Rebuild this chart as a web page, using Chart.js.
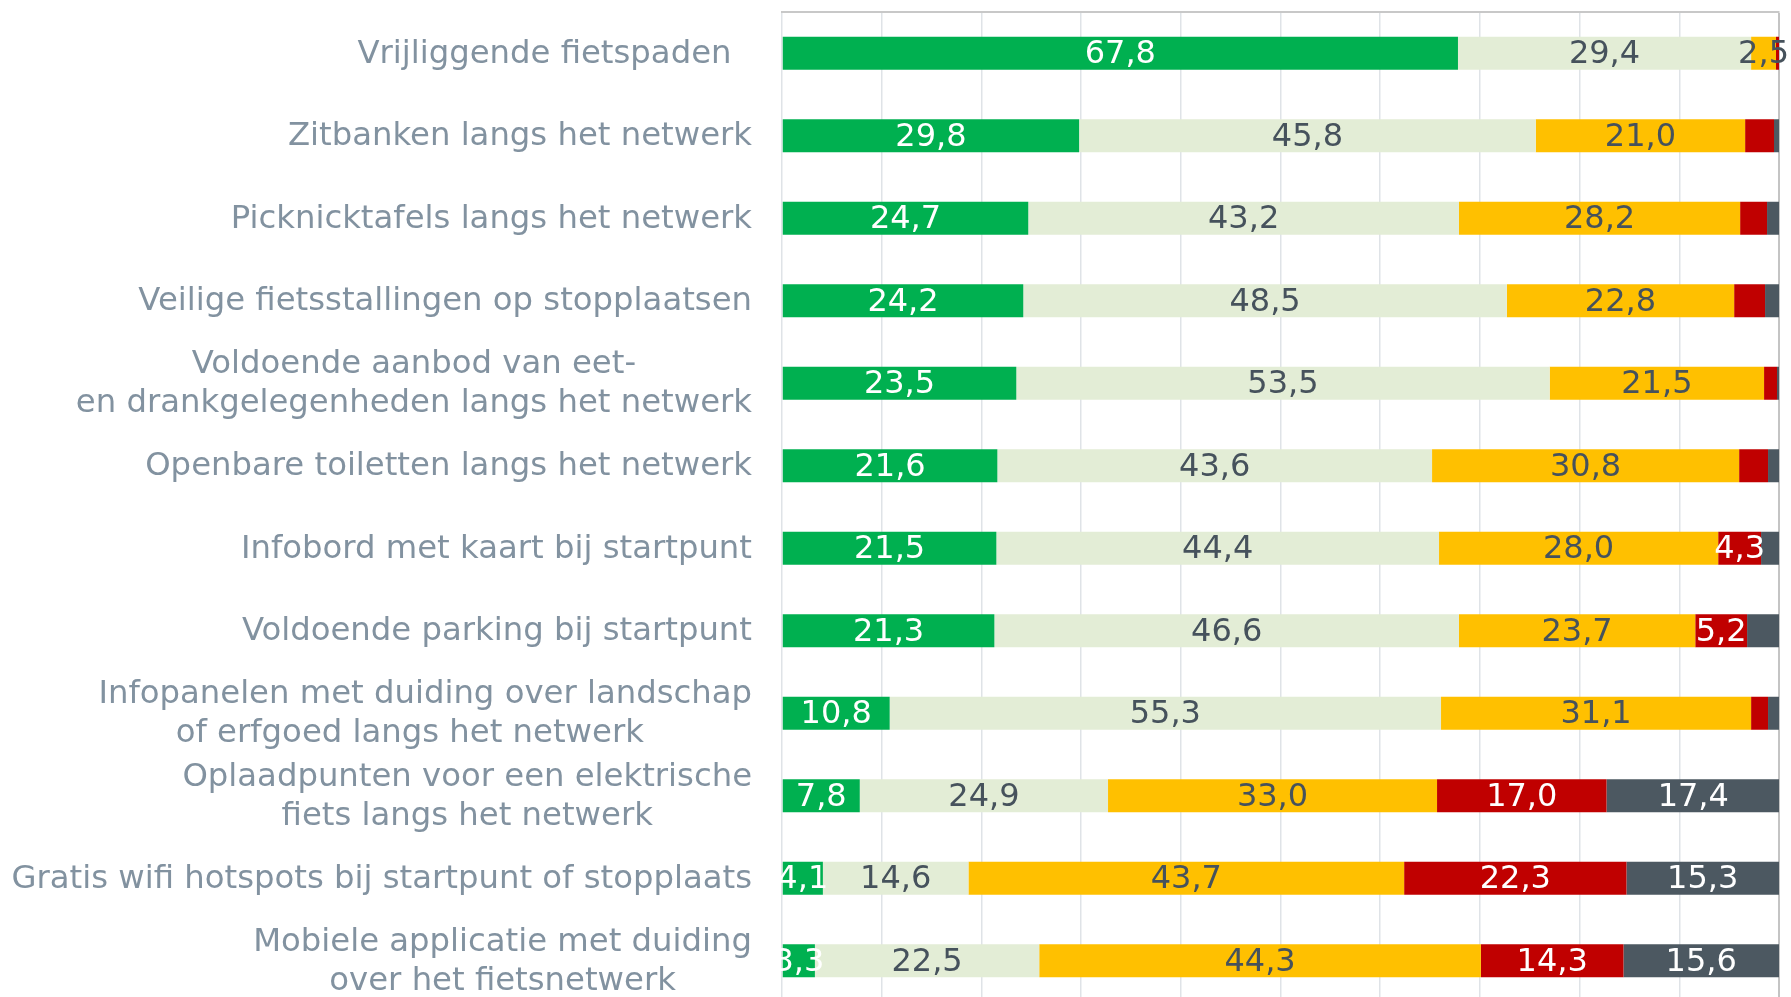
<!DOCTYPE html>
<html><head><meta charset="utf-8">
<script src="https://cdn.jsdelivr.net/npm/chart.js@4.4.0/dist/chart.umd.min.js"></script>
<style>html,body{margin:0;padding:0;background:#fff;overflow:hidden;height:997px}#wrap{width:1791px;height:1002px;position:relative}</style>
</head><body><div id="wrap"><canvas id="c"></canvas></div>
<script>
const categories = [
  ['Vrijliggende fietspaden  '],
  ['Zitbanken langs het netwerk'],
  ['Picknicktafels langs het netwerk'],
  ['Veilige fietsstallingen op stopplaatsen'],
  ['Voldoende aanbod van eet-', 'en drankgelegenheden langs het netwerk'],
  ['Openbare toiletten langs het netwerk'],
  ['Infobord met kaart bij startpunt'],
  ['Voldoende parking bij startpunt'],
  ['Infopanelen met duiding over landschap', 'of erfgoed langs het netwerk   '],
  ['Oplaadpunten voor een elektrische', 'fiets langs het netwerk'],
  ['Gratis wifi hotspots bij startpunt of stopplaats'],
  ['Mobiele applicatie met duiding', 'over het fietsnetwerk']
];
const seriesNames = ['Zeer belangrijk', 'Eerder belangrijk', 'Eerder onbelangrijk', 'Helemaal niet belangrijk', 'Geen mening'];
const zeerBelangrijk   = [67.8, 29.8, 24.7, 24.2, 23.5, 21.6, 21.5, 21.3, 10.8, 7.8, 4.1, 3.3];
const eerderBelangrijk = [29.4, 45.8, 43.2, 48.5, 53.5, 43.6, 44.4, 46.6, 55.3, 24.9, 14.6, 22.5];
const eerderOnbelangrijk = [2.5, 21.0, 28.2, 22.8, 21.5, 30.8, 28.0, 23.7, 31.1, 33.0, 43.7, 44.3];
const nietBelangrijk   = [0.3, 2.9, 2.7, 3.1, 1.3, 2.9, 4.3, 5.2, 1.7, 17.0, 22.3, 14.3];
const geenMening       = [0.0, 0.5, 1.2, 1.4, 0.2, 1.1, 1.8, 3.2, 1.1, 17.4, 15.3, 15.6];
const xTicks = [0, 10, 20, 30, 40, 50, 60, 70, 80, 90, 100];

const seriesValues = [zeerBelangrijk, eerderBelangrijk, eerderOnbelangrijk, nietBelangrijk, geenMening];
const barColors = ['#00b050', '#e3edd6', '#ffc000', '#c00000', '#4c5861'];
const labelColors = ['#ffffff', '#46525c', '#46525c', '#ffffff', '#ffffff'];
const minLabel = [2, 2, 2, 4, 4];
const FONT = '"DejaVu Sans", Verdana, sans-serif';
const fmt = v => v.toFixed(1).replace('.', ',');

const valueLabels = {
  id: 'valueLabels',
  afterDatasetsDraw(chart) {
    const ctx = chart.ctx;
    ctx.save();
    ctx.font = '32px ' + FONT;
    ctx.textAlign = 'center';
    ctx.textBaseline = 'middle';
    chart.data.datasets.forEach((ds, i) => {
      const meta = chart.getDatasetMeta(i);
      meta.data.forEach((bar, j) => {
        const v = ds.data[j];
        if (v < minLabel[i]) return;
        const p = bar.getProps(['x', 'y', 'base'], true);
        ctx.fillStyle = labelColors[i];
        ctx.fillText(fmt(v), (p.x + p.base) / 2, p.y + 1.5);
      });
    });
    ctx.restore();
  }
};

const categoryLabels = {
  id: 'categoryLabels',
  afterDraw(chart) {
    const ctx = chart.ctx;
    const y = chart.scales.y;
    const right = chart.chartArea.left - 30;
    const lh = 38.8;
    ctx.save();
    ctx.font = '32.3px ' + FONT;
    ctx.fillStyle = '#8292a0';
    ctx.textAlign = 'center';
    ctx.textBaseline = 'middle';
    categories.forEach((lines, i) => {
      const cy = y.getPixelForTick(i);
      const w = Math.max(...lines.map(l => ctx.measureText(l).width));
      const cx = right - w / 2;
      const y0 = cy - (lines.length - 1) * lh / 2;
      lines.forEach((l, k) => ctx.fillText(l, cx, y0 + k * lh + 1));
    });
    ctx.restore();
  }
};

new Chart(document.getElementById('c'), {
  type: 'bar',
  data: {
    labels: categories,
    datasets: seriesValues.map((vals, i) => ({
      label: seriesNames[i],
      data: vals,
      backgroundColor: barColors[i],
      borderWidth: 0,
      barPercentage: 0.4,
      categoryPercentage: 1
    }))
  },
  options: {
    indexAxis: 'y',
    responsive: true,
    maintainAspectRatio: false,
    animation: false,
    layout: { padding: { top: 12, right: 12, bottom: 0, left: 0 } },
    plugins: { legend: { display: false }, tooltip: { enabled: false } },
    scales: {
      x: {
        position: 'top',
        stacked: true,
        min: 0, max: 100,
        afterBuildTicks: s => { s.ticks = xTicks.map(v => ({ value: v })); },
        ticks: { display: false },
        grid: {
          drawTicks: false,
          color: ctx => (ctx.tick && ctx.tick.value === 100) ? '#c4c4c4' : '#dfe3e7',
          lineWidth: ctx => (ctx.tick && ctx.tick.value === 100) ? 2 : 1.5
        },
        border: { display: true, color: '#c8c8c8', width: 2 }
      },
      y: {
        stacked: true,
        ticks: { display: false },
        grid: { display: false, drawTicks: false },
        border: { display: false },
        afterFit: s => { s.width = 782; }
      }
    }
  },
  plugins: [valueLabels, categoryLabels]
});
</script>
</body></html>
